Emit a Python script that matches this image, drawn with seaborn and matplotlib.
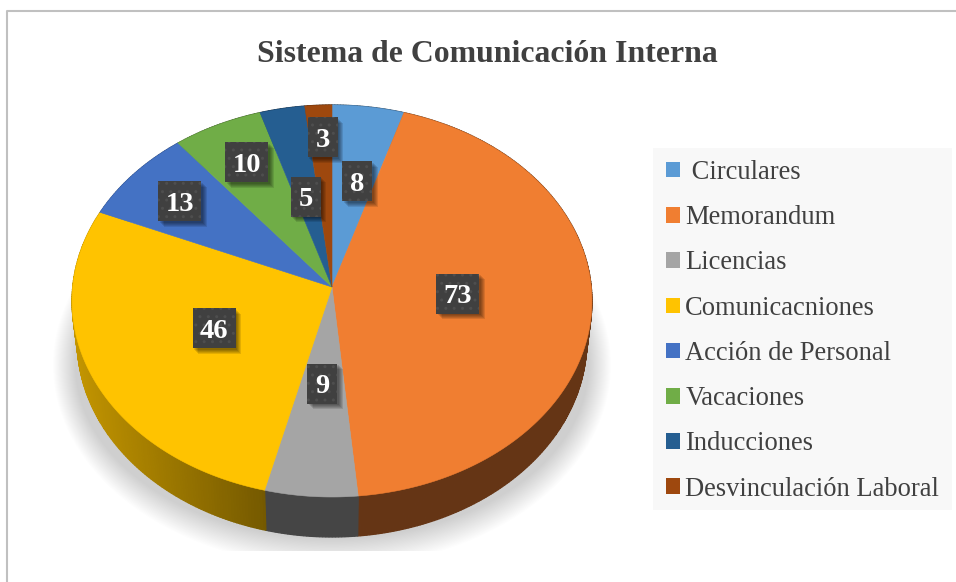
import numpy as np
import matplotlib
matplotlib.use("Agg")
import matplotlib.pyplot as plt
from matplotlib.patches import Rectangle, Ellipse, Patch
import seaborn as sns

categories = ["Circulares", "Memorandum", "Licencias", "Comunicacniones",
              "Acción de Personal", "Vacaciones", "Inducciones", "Desvinculación Laboral"]
legend_labels = [" Circulares"] + categories[1:]
values = [8, 73, 9, 46, 13, 10, 5, 3]
title = "Sistema de Comunicación Interna"

colors = ["#5B9BD5", "#F07E31", "#A5A5A5", "#FFC300", "#4472C4", "#70AD47", "#255E91", "#9E480E"]

sns.set_theme(style="white")
plt.rcParams["font.family"] = ["Liberation Serif", "DejaVu Serif"]
palette = sns.color_palette(colors)

fig = plt.figure(figsize=(9.56, 5.82), dpi=100, facecolor="white")
ax = fig.add_axes([0, 0, 1, 1])
ax.set_xlim(0, 956)
ax.set_ylim(582, 0)
ax.axis("off")

CX, CY, A, B, K = 332, 287, 259.3, 195.0, 0.0714
DEPTH, SHRINK = 40, 0.98
label_radius = [0.57, 0.49, 0.48, 0.50, 0.76, 0.74, 0.49, 0.815]
label_dx = [4, -1, 0, 0, 0, 1, -1, 2]
label_dy = [0, -3, 0, -3, 1, -3, 0, 0]


def project(theta, r=1.0):
    u, v = r * np.sin(theta), r * np.cos(theta)
    w = 1 + K * v
    return CX + A * u / w, CY - B * v / w


# frame
ax.plot([7, 7, 956], [582, 11, 11], color="#C0C0C0", lw=1.5, solid_capstyle="butt")

# soft shadow
clip = Rectangle((0, 0), 956, 551, transform=ax.transData)
layers = 24
for i in range(layers):
    t = i / (layers - 1)
    e = Ellipse((332, 365), 2 * (279 - 22 * t), 2 * (202 - 28 * t),
                fc="black", ec="none", alpha=0.0095, zorder=1)
    ax.add_patch(e)
    e.set_clip_path(clip)

edges = np.cumsum([0] + values) / sum(values) * 2 * np.pi


def wall_factor(x):
    return float(np.interp(x, [75, 263, 264], [0.76, 0.46, 0.42]))


# side wall
for start, stop, col in zip(edges[:-1], edges[1:], palette):
    th = np.linspace(start, stop, max(3, int((stop - start) * 90)))
    x, y = project(th)
    xb, yb = CX + (x - CX) * SHRINK, y + DEPTH
    for j in range(len(th) - 1):
        f = wall_factor(0.5 * (x[j] + x[j + 1]))
        c = tuple(f * np.array(col))
        ax.fill([x[j], x[j + 1], xb[j + 1], xb[j]], [y[j], y[j + 1], yb[j + 1], yb[j]],
                color=c, lw=0.9, zorder=2)

# top faces
for start, stop, col in zip(edges[:-1], edges[1:], palette):
    th = np.linspace(start, stop, 200)
    x, y = project(th)
    ax.fill(np.r_[CX, x], np.r_[CY, y], color=col, lw=0.4, zorder=3)

# data labels
for val, r, dx, dy, start, stop in zip(values, label_radius, label_dx, label_dy, edges[:-1], edges[1:]):
    lx, ly = project(0.5 * (start + stop), r)
    lx, ly = lx + dx, ly + dy
    w, h = (43 if val >= 10 else 30), 40
    for s in range(5):
        d = 1.5 + s * 1.0
        ax.add_patch(Rectangle((lx - w / 2 + d, ly - h / 2 + d), w, h, fc="black", ec="none",
                               alpha=0.11, zorder=4))
    ax.add_patch(Rectangle((lx - w / 2, ly - h / 2), w, h, fc="#404040", ec="#4E4E4E",
                           hatch="..", lw=0, zorder=5))
    ax.text(lx, ly, str(val), ha="center", va="center_baseline", color="white",
            fontsize=20.5, fontweight="bold", zorder=6)

# title
ax.text(487.5, 54, title, ha="center", va="center", color="#404040",
        fontsize=22.9, fontweight="bold")

# legend
ax.add_patch(Rectangle((653, 148), 299, 362, fc="#F8F8F8", ec="none", zorder=1))
handles = [Patch(fc=c, ec="none") for c in palette]
ax.legend(handles, legend_labels, loc="upper left", bbox_to_anchor=(666, 160),
          bbox_transform=ax.transData, frameon=False, borderaxespad=0, borderpad=0,
          fontsize=19.1, labelcolor="#404040", handlelength=0.53, handleheight=0.53,
          handletextpad=0.2, labelspacing=0.763)

fig.savefig("out.png", dpi=100)
